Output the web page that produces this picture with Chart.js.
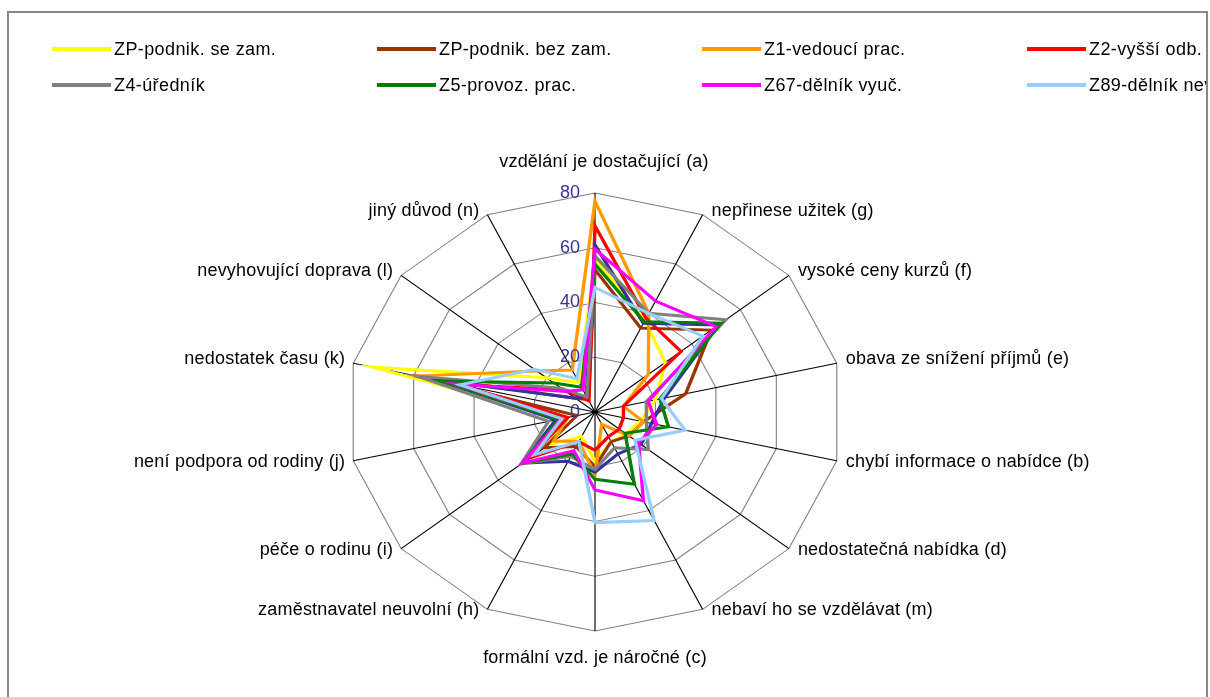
<!DOCTYPE html>
<html>
<head>
<meta charset="utf-8">
<script src="https://cdn.jsdelivr.net/npm/chart.js@4.4.0/dist/chart.umd.min.js"></script>
<style>
html, body { margin: 0; padding: 0; background: #fff; }
body { width: 1210px; height: 697px; overflow: hidden; position: relative; font-family: "Liberation Sans", Arial, sans-serif; }
#chart { position: absolute; left: 0; top: 0; }
#frame { position: absolute; left: 7px; top: 11px; width: 1197px; height: 700px; border: 2px solid #888; overflow: hidden; pointer-events: none; }
.item { position: absolute; height: 20px; white-space: nowrap; font-size: 18px; letter-spacing: 0.4px; color: #000; }
.item i { position: absolute; left: 0; top: 8px; width: 59px; height: 4px; }
.item span { position: absolute; left: 62px; top: 0; line-height: 20px; }
</style>
</head>
<body>
<canvas id="chart" width="1210" height="697"></canvas>
<div id="frame"></div>
<script>
const categories = [
  'vzdělání je dostačující (a)', 'nepřinese užitek (g)', 'vysoké ceny kurzů (f)',
  'obava ze snížení příjmů (e)', 'chybí informace o nabídce (b)', 'nedostatečná nabídka (d)',
  'nebaví ho se vzdělávat (m)', 'formální vzd. je náročné (c)', 'zaměstnavatel neuvolní (h)',
  'péče o rodinu (i)', 'není podpora od rodiny (j)', 'nedostatek času (k)',
  'nevyhovující doprava (l)', 'jiný důvod (n)'
];
const tickValues = [0, 20, 40, 60, 80];

const seriesNames = [
  'ZP-podnik. se zam.', 'ZP-podnik. bez zam.', 'Z1-vedoucí prac.', 'Z2-vyšší odb. zam.',
  'Z3-nižší odb. zam.', 'Z4-úředník', 'Z5-provoz. prac.', 'Z67-dělník vyuč.', 'Z89-dělník nevyuč.'
];
const seriesColors = ['#FFFF00', '#993300', '#FF9900', '#FF0000', '#333399', '#808080', '#008000', '#FF00FF', '#99CCFF'];

const zpSeZam   = [56, 37, 29, 20, 15, 13, 12, 18, 10, 19, 10, 73.5, 20, 12];
const zpBezZam  = [52, 34, 48, 30, 16, 14, 12, 20, 14, 21, 6, 60, 8, 5];
const z1        = [77, 40, 22, 9.4, 16, 14, 5, 23, 12, 17, 9, 59, 24, 17];
const z2        = [68, 38, 35.5, 9.4, 9.4, 10, 10, 14, 12, 27, 9, 45, 13, 4.5];
const z3        = [61, 36, 51, 23, 18.7, 19, 17, 22, 20, 30, 13, 52, 8, 6.5];
const z4        = [57, 40, 54, 17, 17, 22, 14.5, 21, 18, 30.5, 15.4, 58.5, 14, 6];
const z5        = [54, 36.6, 52, 21.5, 24.3, 12.4, 29.3, 24.6, 17, 30, 12, 51, 17, 10];
const z67       = [59.5, 45, 50, 17.6, 20.4, 18, 36, 28.5, 15.7, 30, 11, 46, 12, 9];
const z89       = [45.5, 40, 44.5, 22, 29.8, 16.5, 44, 40.4, 12, 25, 11, 44.7, 25, 13.5];
const seriesData = [zpSeZam, zpBezZam, z1, z2, z3, z4, z5, z67, z89];

// chart is wider than tall in the original
const SX = 248 / 219;

// legend, 5 columns, clipped by the frame like the original
const frame = document.getElementById('frame');
seriesNames.forEach((name, i) => {
  const col = i < 5 ? i : i - 5;
  const row = i < 5 ? 0 : 1;
  const d = document.createElement('div');
  d.className = 'item';
  d.style.left = (43 + col * 325) + 'px';
  d.style.top = (26 + row * 36) + 'px';
  d.innerHTML = '<i style="background:' + seriesColors[i] + '"></i><span>' + name + '</span>';
  frame.appendChild(d);
});

const stretch = {
  id: 'stretch',
  beforeDraw(chart) {
    const s = chart.scales.r;
    const ctx = chart.ctx;
    ctx.save();
    ctx.translate(s.xCenter, 0);
    ctx.scale(SX, 1);
    ctx.translate(-s.xCenter, 0);
  },
  afterDraw(chart) {
    const ctx = chart.ctx;
    ctx.restore();
    const s = chart.scales.r;
    ctx.save();
    ctx.font = '18px "Liberation Sans", Arial, sans-serif';
    ctx.letterSpacing = '0.2px';
    ctx.textBaseline = 'middle';
    ctx.fillStyle = '#000';
    categories.forEach((lab, i) => {
      const p = s.getPointPosition(i, s.drawingArea);
      const dx = (p.x - s.xCenter) * SX;
      const x = s.xCenter + dx;
      const up = p.y < s.yCenter;
      if (Math.abs(dx) < 1) {
        ctx.textAlign = 'center';
        ctx.fillText(lab, x + (up ? 9 : 0), up ? p.y - 31 : p.y + 27);
      } else if (dx > 0) {
        ctx.textAlign = 'left';
        ctx.fillText(lab, x + 9, p.y + (up ? -4 : 1));
      } else {
        ctx.textAlign = 'right';
        ctx.fillText(lab, x - 8, p.y + (up ? -4 : 1));
      }
    });
    ctx.fillStyle = '#333399';
    ctx.textAlign = 'right';
    ctx.letterSpacing = '0px';
    tickValues.forEach(v => {
      ctx.fillText(String(v), s.xCenter - 15, s.yCenter - s.getDistanceFromCenterForValue(v));
    });
    ctx.restore();
  }
};

new Chart(document.getElementById('chart'), {
  type: 'radar',
  data: {
    labels: categories,
    datasets: seriesNames.map((name, i) => ({
      label: name,
      data: seriesData[i],
      borderColor: seriesColors[i],
      backgroundColor: seriesColors[i],
      order: seriesNames.length - 1 - i
    }))
  },
  options: {
    responsive: false,
    animation: false,
    devicePixelRatio: 1,
    layout: { padding: { left: 295, right: 315, top: 193, bottom: 66 } },
    elements: {
      line: { borderWidth: 3, tension: 0, fill: false },
      point: { radius: 0, hoverRadius: 0 }
    },
    plugins: { legend: { display: false }, tooltip: { enabled: false } },
    scales: {
      r: {
        min: 0,
        max: 80,
        ticks: { stepSize: 20, display: false },
        grid: { color: '#808080', lineWidth: 1 },
        angleLines: { color: '#000', lineWidth: 1 },
        pointLabels: { display: false }
      }
    }
  },
  plugins: [stretch]
});
</script>
</body>
</html>
